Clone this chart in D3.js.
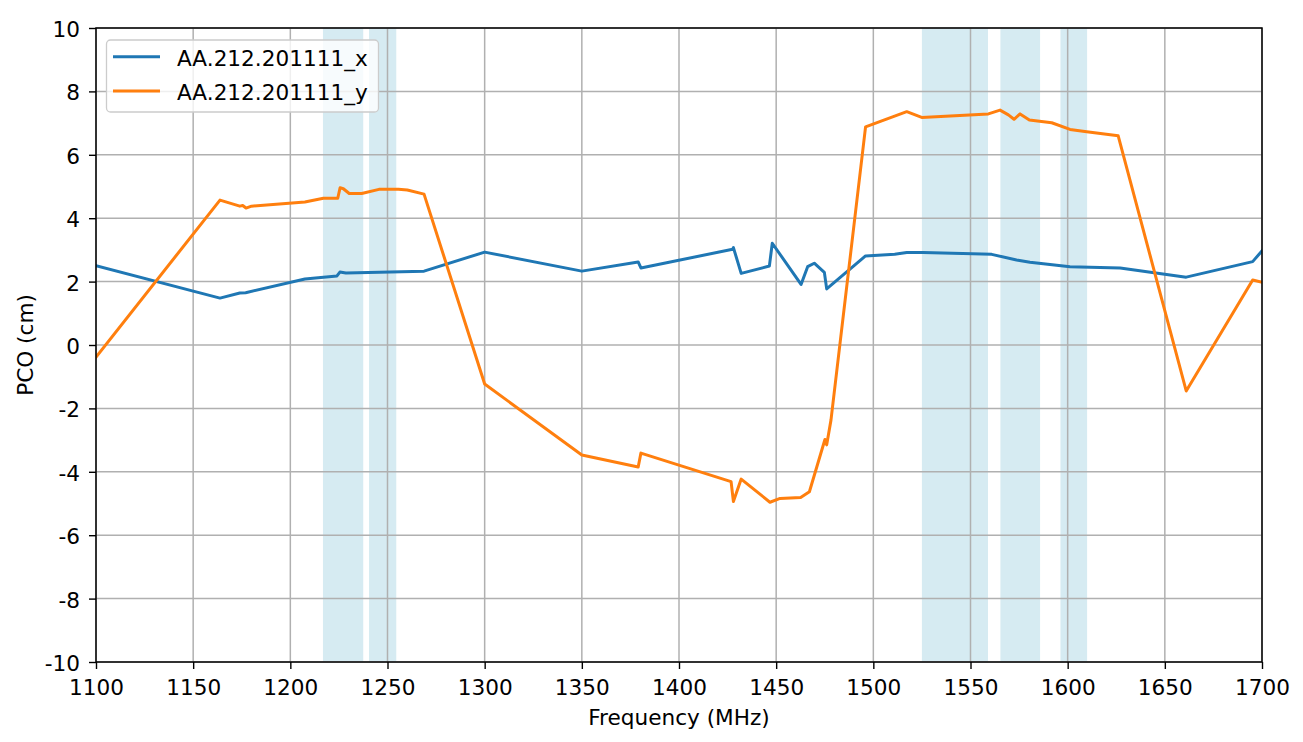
<!DOCTYPE html>
<html><head><meta charset="utf-8">
<script src="https://cdn.jsdelivr.net/npm/d3@7"></script>
<style>body{margin:0;background:#fff;} text{font-family:"DejaVu Sans",sans-serif;}</style>
</head><body><svg id="c" width="1303" height="742"></svg>
<script>
const xTicks = [1100,1150,1200,1250,1300,1350,1400,1450,1500,1550,1600,1650,1700];
const yTicks = [-10,-8,-6,-4,-2,0,2,4,6,8,10];
const bands = [[1216.8,1237.5],[1240.5,1254.5],[1525,1559],[1565.4,1585.8],[1596.3,1610]];
const seriesNames = ["AA.212.201111_x","AA.212.201111_y"];
const freqX = [1100,1163.8,1174,1177,1207.5,1224,1225.5,1228.6,1268.8,1300,1350,1379,1380.4,1427.6,1428,1432,1446.5,1448,1462.8,1466.2,1469.6,1474.8,1476,1496,1511,1517.2,1525.6,1560.9,1573.7,1580.6,1601.2,1627,1661,1695.2,1700];
const pcoX  = [2.5,1.48,1.64,1.65,2.08,2.18,2.3,2.27,2.33,2.93,2.33,2.62,2.43,3.02,3.07,2.26,2.49,3.21,1.91,2.47,2.58,2.29,1.77,2.81,2.86,2.92,2.92,2.86,2.68,2.61,2.47,2.43,2.14,2.63,2.97];
const freqY = [1100,1163.8,1174,1175.5,1177.2,1180,1207.5,1217,1224.4,1225.6,1227.3,1230.3,1236.7,1245.6,1255.6,1260.2,1268.8,1300,1350,1379,1380.4,1426.8,1428,1432,1446.8,1452,1462.6,1467.1,1475.1,1476,1478.2,1496,1517.2,1524.9,1559.2,1565.2,1569.5,1572.4,1575.5,1580.3,1591.8,1601.2,1609.8,1626,1661,1695.2,1700];
const pcoY  = [-0.38,4.57,4.38,4.4,4.32,4.38,4.51,4.63,4.63,4.96,4.93,4.78,4.78,4.91,4.91,4.89,4.76,-1.23,-3.47,-3.85,-3.41,-4.31,-4.94,-4.23,-4.96,-4.84,-4.81,-4.63,-2.98,-3.15,-2.37,6.88,7.36,7.18,7.29,7.41,7.26,7.12,7.29,7.10,7.01,6.80,6.73,6.60,-1.45,2.05,1.98];
const colors = ["#1f77b4","#ff7f0e"];

const svg = d3.select("#c");
const L=96, R=1262, T=28, B=662;
const x = d3.scaleLinear().domain([1100,1700]).range([L,R]);
const y = d3.scaleLinear().domain([-10,10]).range([B,T]);
const fs = 21.6;

const defs = svg.append("defs");
defs.append("clipPath").attr("id","clip").append("rect").attr("x",L).attr("y",T).attr("width",R-L).attr("height",B-T);

// bands
svg.append("g").selectAll("rect").data(bands).join("rect")
  .attr("x",d=>x(d[0])).attr("width",d=>x(d[1])-x(d[0]))
  .attr("y",T).attr("height",B-T).attr("fill","#add8e6").attr("fill-opacity",0.5);

// grid
const g = svg.append("g");
g.selectAll("line.vx").data(xTicks).join("line").attr("x1",d=>x(d)).attr("x2",d=>x(d)).attr("y1",T).attr("y2",B)
  .attr("stroke","#b0b0b0").attr("stroke-width",1.5);
g.selectAll("line.hy").data(yTicks).join("line").attr("y1",d=>y(d)).attr("y2",d=>y(d)).attr("x1",L).attr("x2",R)
  .attr("stroke","#b0b0b0").attr("stroke-width",1.5);

// lines
const line = d3.line().x(d=>x(d[0])).y(d=>y(d[1]));
const data = [d3.zip(freqX,pcoX), d3.zip(freqY,pcoY)];
svg.append("g").attr("clip-path","url(#clip)").selectAll("path").data(data).join("path")
  .attr("d",line).attr("fill","none").attr("stroke",(d,i)=>colors[i]).attr("stroke-width",3)
  .attr("stroke-linejoin","round").attr("stroke-linecap","square");

// axes
const xa = svg.append("g").attr("transform",`translate(0,${B})`).call(d3.axisBottom(x).tickValues(xTicks).tickSize(7).tickFormat(d3.format("d")));
const ya = svg.append("g").attr("transform",`translate(${L},0)`).call(d3.axisLeft(y).tickValues(yTicks).tickSize(7).tickPadding(9).tickFormat(d=>String(d)));
[xa,ya].forEach(a=>{a.select(".domain").remove();a.selectAll("line").attr("stroke","#000").attr("stroke-width",1.4);
  a.selectAll("text").attr("font-size",fs).attr("fill","#000").style("font-family","DejaVu Sans");});
xa.selectAll("text").attr("y",32.5).attr("dy",null);
ya.selectAll("text").attr("dy","8.4px");

// frame
svg.append("rect").attr("x",L).attr("y",T).attr("width",R-L).attr("height",B-T).attr("fill","none").attr("stroke","#000").attr("stroke-width",1.5);

// labels
svg.append("text").attr("x",(L+R)/2).attr("y",724.5).attr("text-anchor","middle").attr("font-size",fs).text("Frequency (MHz)");
svg.append("text").attr("transform",`translate(32.5,${(T+B)/2}) rotate(-90)`).attr("text-anchor","middle").attr("font-size",fs).text("PCO (cm)");

// legend
const lg = svg.append("g");
lg.append("rect").attr("x",106.5).attr("y",40).attr("width",272).attr("height",72).attr("rx",4)
  .attr("fill","#fff").attr("fill-opacity",0.8).attr("stroke","#cccccc").attr("stroke-width",1.3);
seriesNames.forEach((n,i)=>{
  const yy = 56.7 + i*34.3;
  lg.append("line").attr("x1",113).attr("x2",160).attr("y1",yy).attr("y2",yy).attr("stroke",colors[i]).attr("stroke-width",3);
  lg.append("text").attr("x",177).attr("y",yy+9).attr("font-size",fs).text(n);
});
</script></body></html>
